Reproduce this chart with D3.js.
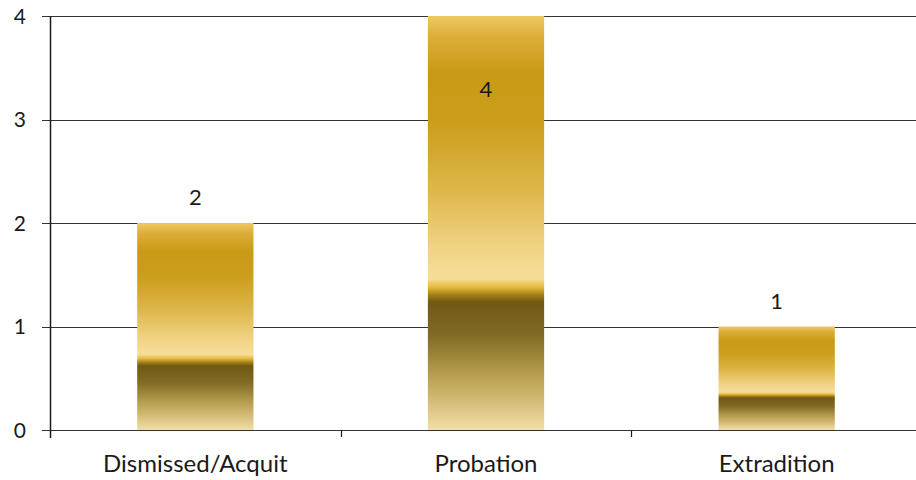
<!DOCTYPE html>
<html>
<head>
<meta charset="utf-8">
<script src="https://cdn.jsdelivr.net/npm/d3@7"></script>
<style>
  html, body { margin: 0; padding: 0; background: #ffffff; }
  svg { display: block; }
  text { font-family: Lato, "Open Sans", sans-serif; fill: #1a1a1a; }
</style>
</head>
<body>
<svg id="chart" width="916" height="480"></svg>
<script>
// Case outcomes
const categories = ["Dismissed/Acquit", "Probation", "Extradition"];
const counts = [2, 4, 1];
const yTicks = [0, 1, 2, 3, 4];

const width = 916, height = 480;
const margin = { top: 16, right: -6, bottom: 50, left: 50 };

const svg = d3.select("#chart");

const x = d3.scaleBand()
  .domain(categories)
  .range([margin.left, width - margin.right])
  .paddingInner(0.6)
  .paddingOuter(0.3);

const y = d3.scaleLinear()
  .domain([0, 4])
  .range([height - margin.bottom, margin.top]);

// Gold metallic fill, banded from top to bottom of each bar
const defs = svg.append("defs");
const grad = defs.append("linearGradient")
  .attr("id", "gold")
  .attr("x1", 0).attr("y1", 0).attr("x2", 0).attr("y2", 1);
const stops = [
  [0.00, "#eec860"],
  [0.05, "#dcae38"],
  [0.14, "#c99a14"],
  [0.26, "#cc9e1c"],
  [0.42, "#ddb64a"],
  [0.56, "#f1d385"],
  [0.635, "#f6dd98"],
  [0.655, "#e6ba3e"],
  [0.672, "#a8841a"],
  [0.69, "#715912"],
  [0.77, "#806b24"],
  [0.88, "#bea456"],
  [1.00, "#f3dea8"]
];
grad.selectAll("stop").data(stops).join("stop")
  .attr("offset", d => d[0])
  .attr("stop-color", d => d[1]);

// Horizontal gridlines
svg.append("g")
  .selectAll("line")
  .data(yTicks)
  .join("line")
  .attr("x1", margin.left - 8)
  .attr("x2", width)
  .attr("y1", d => Math.round(y(d)) + 0.5)
  .attr("y2", d => Math.round(y(d)) + 0.5)
  .attr("stroke", "#333333")
  .attr("stroke-width", 1.2);

// Bars
svg.append("g")
  .selectAll("rect")
  .data(categories)
  .join("rect")
  .attr("x", d => x(d))
  .attr("width", x.bandwidth())
  .attr("y", (d, i) => y(counts[i]))
  .attr("height", (d, i) => y(0) - y(counts[i]))
  .attr("fill", "url(#gold)");

// Y axis line
svg.append("line")
  .attr("x1", margin.left + 0.5).attr("x2", margin.left + 0.5)
  .attr("y1", y(4)).attr("y2", y(0) + 8)
  .attr("stroke", "#1a1a1a").attr("stroke-width", 1.5);

// Y tick labels
svg.append("g")
  .selectAll("text")
  .data(yTicks)
  .join("text")
  .attr("x", 26)
  .attr("y", d => y(d))
  .attr("dy", "0.36em")
  .attr("text-anchor", "end")
  .attr("font-size", 21)
  .text(d => d);

// Category separators on the x axis
const step = x.step();
const seps = categories.slice(1).map(c => x(c) - x.paddingInner() * step / 2);
svg.append("g")
  .selectAll("line")
  .data(seps)
  .join("line")
  .attr("x1", d => Math.round(d) + 0.5).attr("x2", d => Math.round(d) + 0.5)
  .attr("y1", y(0)).attr("y2", y(0) + 7)
  .attr("stroke", "#1a1a1a").attr("stroke-width", 1.2);

// Category labels
svg.append("g")
  .selectAll("text")
  .data(categories)
  .join("text")
  .attr("x", d => x(d) + x.bandwidth() / 2)
  .attr("y", 472)
  .attr("text-anchor", "middle")
  .attr("font-size", 24)
  .text(d => d);

// Value labels: above the bar, or inside when the bar reaches the top
svg.append("g")
  .selectAll("text")
  .data(categories)
  .join("text")
  .attr("x", d => x(d) + x.bandwidth() / 2)
  .attr("y", (d, i) => {
    const top = y(counts[i]);
    return top - 18 < margin.top + 10 ? top + 81 : top - 18;
  })
  .attr("text-anchor", "middle")
  .attr("font-size", 22)
  .text((d, i) => counts[i]);
</script>
</body>
</html>
